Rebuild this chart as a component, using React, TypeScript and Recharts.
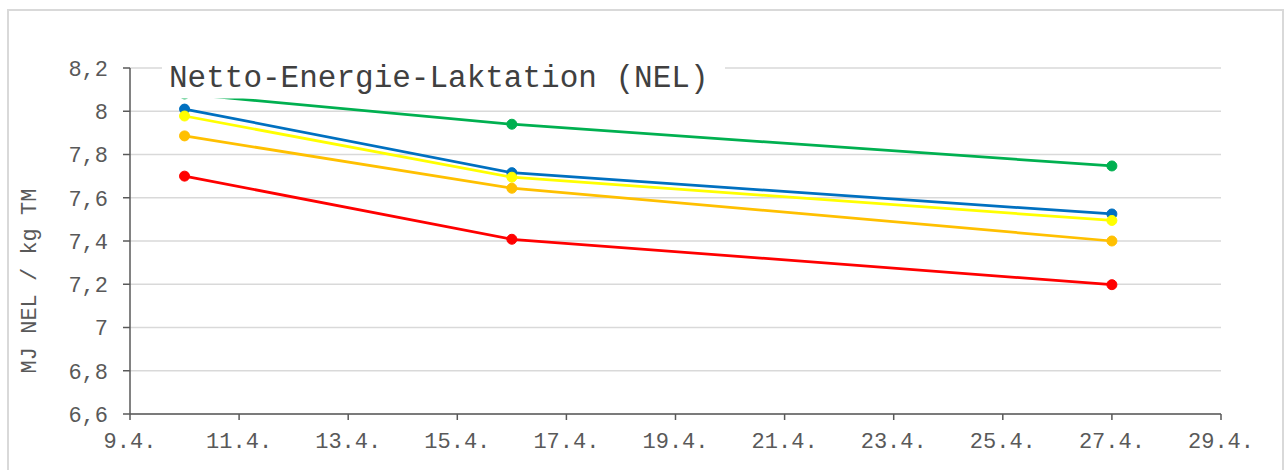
import React from 'react';
import { LineChart, Line, XAxis, YAxis, CartesianGrid } from 'recharts';

const dates = [10, 16, 27];
const greenSeries = [8.08, 7.94, 7.747];
const blueSeries = [8.01, 7.716, 7.525];
const yellowSeries = [7.978, 7.695, 7.495];
const orangeSeries = [7.886, 7.644, 7.4];
const redSeries = [7.7, 7.408, 7.198];

const xTicks = [9, 11, 13, 15, 17, 19, 21, 23, 25, 27, 29];
const yTicks = [6.6, 6.8, 7.0, 7.2, 7.4, 7.6, 7.8, 8.0, 8.2];

const title = 'Netto-Energie-Laktation (NEL)';
const yLabel = 'MJ NEL / kg TM';

const data = dates.map((d, i) => ({
  date: d,
  green: greenSeries[i],
  blue: blueSeries[i],
  yellow: yellowSeries[i],
  orange: orangeSeries[i],
  red: redSeries[i],
}));

const FONT = '"Liberation Mono", "Courier New", monospace';
const AXIS = '#595959';

const series = [
  { key: 'green', color: '#00B050' },
  { key: 'blue', color: '#0070C0' },
  { key: 'yellow', color: '#FFFF00' },
  { key: 'orange', color: '#FFC000' },
  { key: 'red', color: '#FF0000' },
];

const fmtY = (v: number) => Number(v.toFixed(1)).toString().replace('.', ',');
const fmtX = (v: number) => `${v}.4.`;

export default function App() {
  return (
    <div style={{ position: 'absolute', left: 0, top: 0, width: 1288, height: 470, background: '#fff', overflow: 'hidden' }}>
      <div
        style={{
          position: 'absolute',
          left: 7,
          top: 9,
          width: 1277,
          height: 480,
          border: '2px solid #d9d9d9',
          boxSizing: 'border-box',
        }}
      />
      <div style={{ position: 'absolute', left: 0, top: 0 }}>
        <LineChart
          width={1288}
          height={470}
          data={data}
          margin={{ top: 68, right: 67, left: 0, bottom: 0 }}
        >
          <CartesianGrid horizontal vertical={false} stroke="#d9d9d9" strokeWidth={1.5} />
          <XAxis
            dataKey="date"
            type="number"
            domain={[9, 29]}
            ticks={xTicks}
            tickFormatter={fmtX}
            height={56}
            tickSize={6}
            tickMargin={12}
            stroke={AXIS}
            strokeWidth={1.5}
            tick={{ fill: AXIS, fontSize: 22, fontFamily: FONT }}
            interval={0}
            allowDataOverflow
          />
          <YAxis
            type="number"
            domain={[6.6, 8.2]}
            ticks={yTicks}
            tickFormatter={fmtY}
            width={130}
            tickSize={7}
            tickMargin={15}
            stroke={AXIS}
            strokeWidth={1.5}
            tick={{ fill: AXIS, fontSize: 22, fontFamily: FONT }}
            interval={0}
            allowDataOverflow
          />
          {series.map((s) => (
            <Line
              key={s.key}
              type="linear"
              dataKey={s.key}
              stroke={s.color}
              strokeWidth={2.75}
              dot={{ r: 5, fill: s.color, stroke: s.color, strokeWidth: 1 }}
              isAnimationActive={false}
            />
          ))}
        </LineChart>
      </div>
      <svg
        width={1288}
        height={470}
        style={{ position: 'absolute', left: 0, top: 0, pointerEvents: 'none' }}
      >
        <rect x={162} y={58} width={563} height={40.5} fill="#fff" />
        <text x={169} y={87} fontSize={31} fontFamily={FONT} fill="#404040">
          {title}
        </text>
        <text
          x={30}
          y={281}
          fontSize={22}
          fontFamily={FONT}
          fill={AXIS}
          textAnchor="middle"
          dominantBaseline="central"
          transform="rotate(-90 30 281)"
        >
          {yLabel}
        </text>
      </svg>
    </div>
  );
}
